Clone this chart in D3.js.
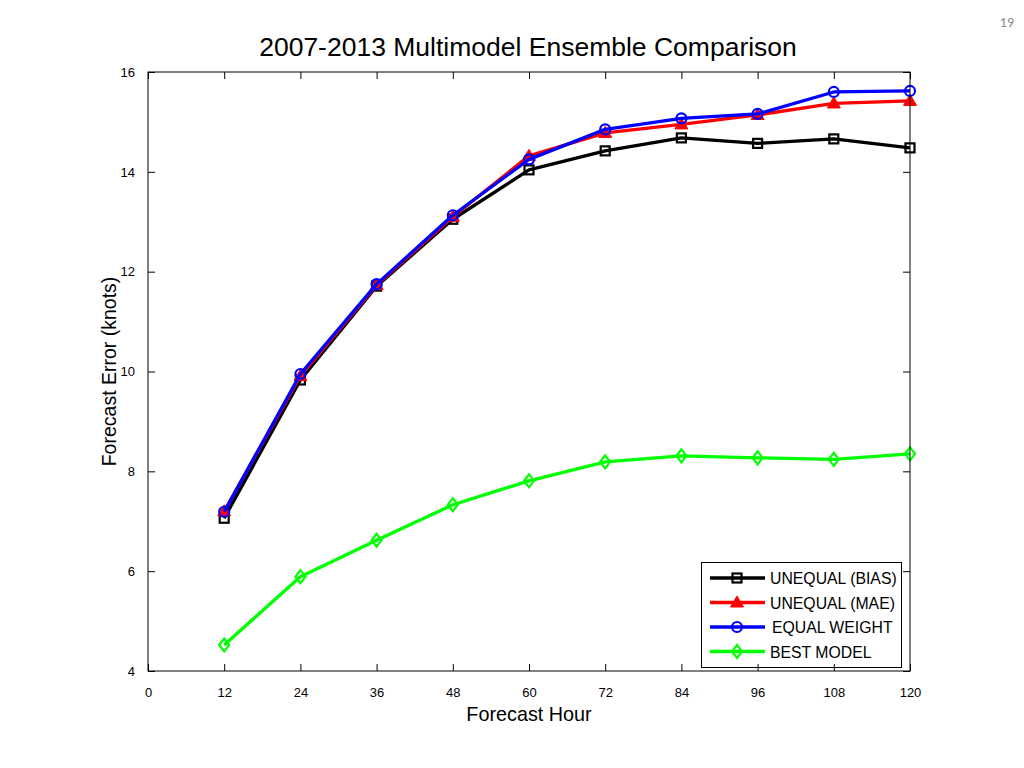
<!DOCTYPE html>
<html><head><meta charset="utf-8">
<script src="https://cdn.jsdelivr.net/npm/d3@7/dist/d3.min.js"></script>
<style>body{margin:0;background:#fff;}svg{display:block;}</style>
</head><body>
<svg id="c" width="1024" height="768"></svg>
<script>
const hours = [12, 24, 36, 48, 60, 72, 84, 96, 108, 120];
const unequalBias = [7.06, 9.83, 11.71, 13.05, 14.04, 14.42, 14.68, 14.57, 14.66, 14.48];
const unequalMae  = [7.20, 9.91, 11.73, 13.10, 14.32, 14.78, 14.95, 15.14, 15.37, 15.42];
const equalWeight = [7.19, 9.95, 11.75, 13.13, 14.25, 14.85, 15.07, 15.16, 15.60, 15.62];
const bestModel   = [4.52, 5.89, 6.62, 7.33, 7.81, 8.19, 8.31, 8.27, 8.24, 8.35];
const xTicks = [0, 12, 24, 36, 48, 60, 72, 84, 96, 108, 120];
const yTicks = [4, 6, 8, 10, 12, 14, 16];
const seriesNames = ["UNEQUAL (BIAS)", "UNEQUAL (MAE)", "EQUAL WEIGHT", "BEST MODEL"];
const seriesColors = ["#000000", "#ff0000", "#0000ff", "#00ff00"];
const seriesMarkers = ["square", "triangle", "circle", "diamond"];
const seriesValues = [unequalBias, unequalMae, equalWeight, bestModel];

const svg = d3.select("#c");
const L = 148, R = 910, T = 72, B = 671;
const x = d3.scaleLinear().domain([0, 120]).range([L, R]);
const y = d3.scaleLinear().domain([4, 16]).range([B, T]);
const font = "Liberation Sans, Arial, sans-serif";

function drawMarker(g, type, cx, cy, color) {
  if (type === "square") {
    g.append("rect").attr("x", cx - 4.5).attr("y", cy - 4.5).attr("width", 9).attr("height", 9)
      .attr("fill", "none").attr("stroke", color).attr("stroke-width", 2.2);
  } else if (type === "triangle") {
    g.append("path").attr("d", `M${cx},${cy - 6.5}L${cx + 6.5},${cy + 4.5}L${cx - 6.5},${cy + 4.5}Z`)
      .attr("fill", color).attr("stroke", color).attr("stroke-width", 1);
  } else if (type === "circle") {
    g.append("circle").attr("cx", cx).attr("cy", cy).attr("r", 5)
      .attr("fill", "none").attr("stroke", color).attr("stroke-width", 2.2);
  } else {
    g.append("path").attr("d", `M${cx},${cy - 6.5}L${cx + 5},${cy}L${cx},${cy + 6.5}L${cx - 5},${cy}Z`)
      .attr("fill", "none").attr("stroke", color).attr("stroke-width", 2.2);
  }
}

// page number
svg.append("text").attr("x", 1014).attr("y", 27).attr("text-anchor", "end")
  .attr("font-family", "Carlito, Calibri, Liberation Sans, sans-serif").attr("font-size", 14)
  .attr("fill", "#8c8c8c").text("19");

// title
svg.append("text").attr("x", 528).attr("y", 56).attr("text-anchor", "middle")
  .attr("font-family", font).attr("font-size", 26.5).attr("fill", "#000")
  .text("2007-2013 Multimodel Ensemble Comparison");

// series
const line = d3.line().x((d, i) => x(hours[i])).y(d => y(d));
seriesValues.forEach((vals, si) => {
  const g = svg.append("g");
  g.append("path").datum(vals).attr("d", line).attr("fill", "none")
    .attr("stroke", seriesColors[si]).attr("stroke-width", 3.3).attr("stroke-linejoin", "round");
  vals.forEach((v, i) => drawMarker(g, seriesMarkers[si], x(hours[i]), y(v), seriesColors[si]));
});

// legend
const lg = svg.append("g");
lg.append("rect").attr("x", 701.5).attr("y", 562.5).attr("width", 200).attr("height", 105)
  .attr("fill", "#fff").attr("stroke", "#000").attr("stroke-width", 1);
seriesNames.forEach((name, i) => {
  const cy = 578 + i * 24.5;
  lg.append("line").attr("x1", 710).attr("x2", 765).attr("y1", cy).attr("y2", cy)
    .attr("stroke", seriesColors[i]).attr("stroke-width", 3.3);
  drawMarker(lg, seriesMarkers[i], 737, cy, seriesColors[i]);
  lg.append("text").attr("x", i === 2 ? 772 : 770).attr("y", cy + 6).attr("font-family", font)
    .attr("font-size", 15.8).attr("fill", "#000").text(name);
});

// axes frame and ticks
const ax = svg.append("g");
ax.append("rect").attr("x", L).attr("y", T).attr("width", R - L).attr("height", B - T)
  .attr("fill", "none").attr("stroke", "#000").attr("stroke-width", 1);
const axBottom = d3.axisBottom(x).tickValues(xTicks).tickSizeInner(-7).tickSizeOuter(0).tickPadding(17);
ax.append("g").attr("transform", `translate(0,${B})`).call(axBottom);
const axTop = d3.axisTop(x).tickValues(xTicks).tickSizeInner(-7).tickSizeOuter(0).tickFormat("");
ax.append("g").attr("transform", `translate(0,${T})`).call(axTop);
const axLeft = d3.axisLeft(y).tickValues(yTicks).tickSizeInner(-7).tickSizeOuter(0).tickPadding(13);
ax.append("g").attr("transform", `translate(${L},0)`).call(axLeft);
const axRight = d3.axisRight(y).tickValues(yTicks).tickSizeInner(-7).tickSizeOuter(0).tickFormat("");
ax.append("g").attr("transform", `translate(${R},0)`).call(axRight);
ax.selectAll(".domain").remove();
ax.selectAll(".tick line").attr("stroke", "#000");
ax.selectAll(".tick text").attr("font-family", font).attr("font-size", 13).attr("fill", "#000");

// axis labels
svg.append("text").attr("x", 529).attr("y", 721).attr("text-anchor", "middle")
  .attr("font-family", font).attr("font-size", 19.8).attr("fill", "#000").text("Forecast Hour");
svg.append("text").attr("transform", `translate(116,${(T + B) / 2}) rotate(-90)`)
  .attr("text-anchor", "middle").attr("font-family", font).attr("font-size", 19.5)
  .attr("fill", "#000").text("Forecast Error (knots)");
</script>
</body></html>
